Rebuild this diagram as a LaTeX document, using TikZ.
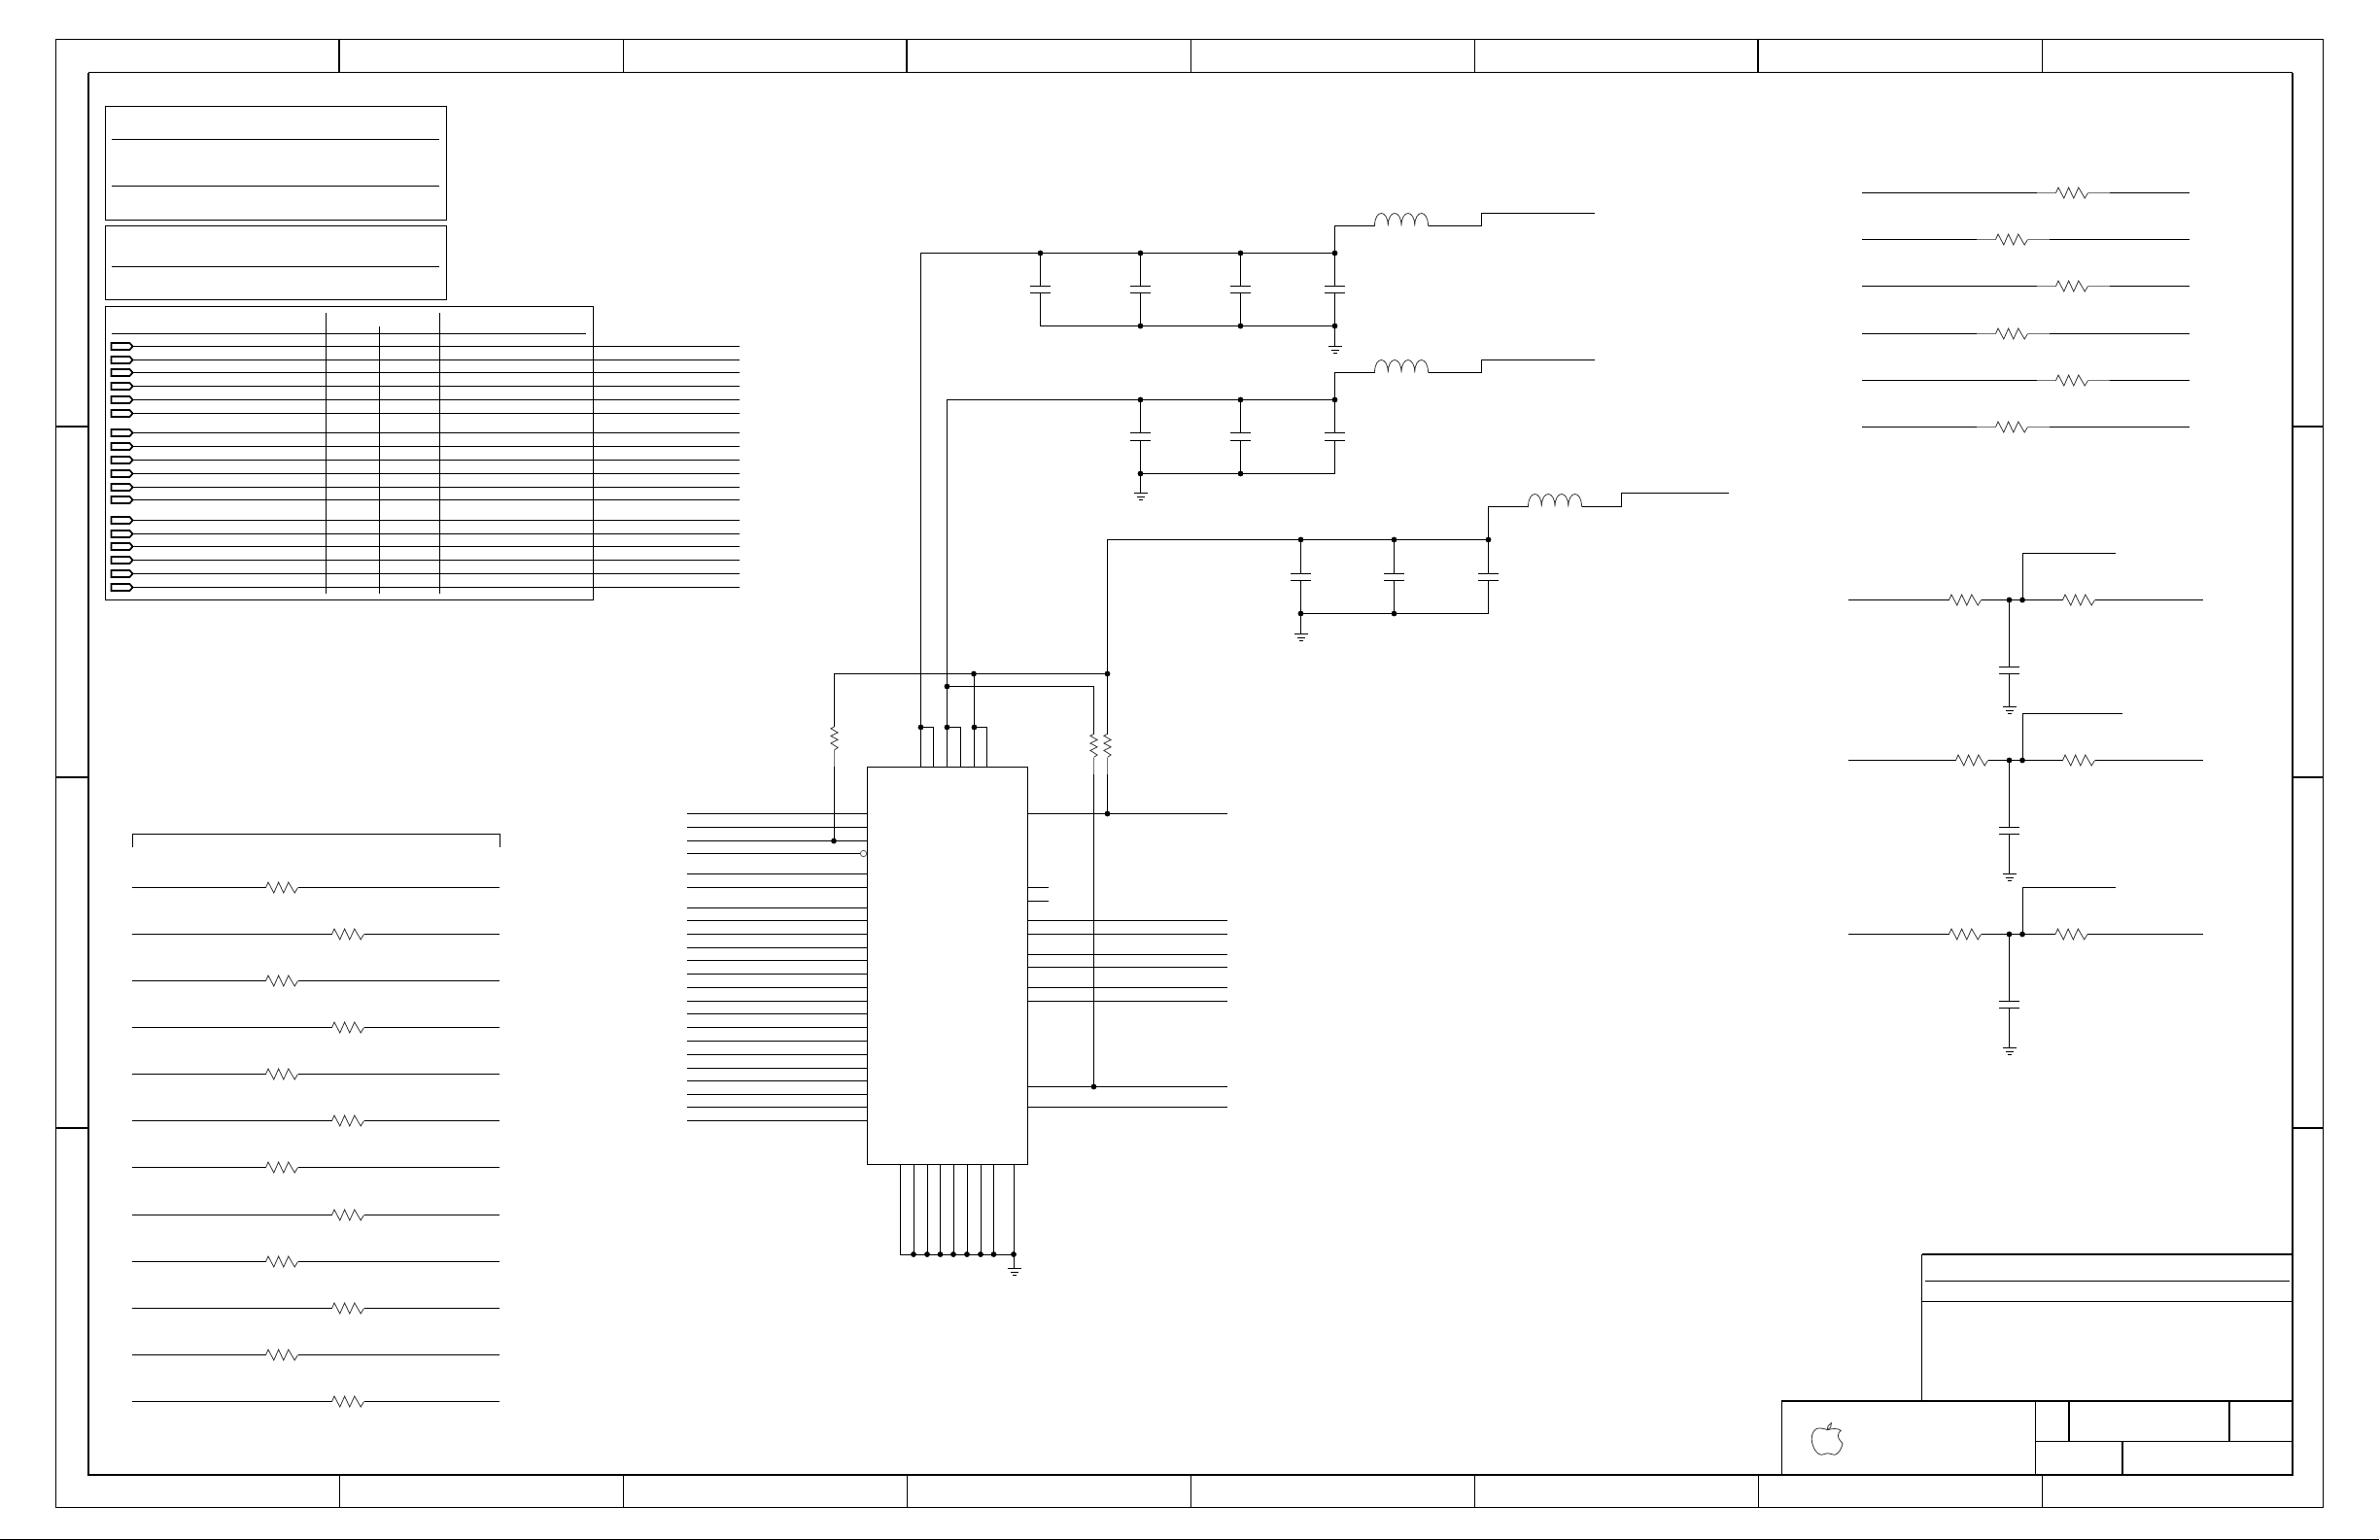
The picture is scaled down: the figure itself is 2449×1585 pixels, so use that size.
\documentclass[tikz,border=0pt]{standalone}
\usetikzlibrary{calc}
\tikzset{
  wire/.style={line width=0.7pt,black,line cap=butt,line join=miter},
  heavy/.style={line width=1pt,black,line cap=square,line join=miter},
  sym/.style={line width=0.4pt,black!80,line join=miter},
  lead/.style={line width=0.5pt,black!55},
  tagbox/.style={line width=0.85pt,black,line join=miter},
  junction/.style={fill=black,draw=none}
}
\newcommand{\zigh}[2]{\draw[sym] (#1,#2) -- ++(2.5,-5.5) -- ++(5.8,11) -- ++(4.8,-11) -- ++(5.2,11) -- ++(5,-11) -- ++(6.4,11) -- ++(3.3,-5.5);}
\newcommand{\zigv}[2]{\draw[sym] (#1,#2) -- ++(-3.6,1.8) -- ++(7.2,4.2) -- ++(-7.2,3.5) -- ++(7.2,3.8) -- ++(-7.2,3.6) -- ++(7.2,4.6) -- ++(-3.6,2.4);}
\newcommand{\resline}[4]{\draw[wire] (#1,#4) -- (#3,#4); \zigh{#3}{#4} \draw[wire] ($(#3,#4)+(33,0)$) -- (#2,#4);}
\newcommand{\reslead}[4]{\draw[wire] (#1,#4) -- ($(#3,#4)+(-20,0)$); \draw[lead] ($(#3,#4)+(-20,0)$) -- (#3,#4); \zigh{#3}{#4} \draw[lead] ($(#3,#4)+(33,0)$) -- ($(#3,#4)+(55,0)$); \draw[wire] ($(#3,#4)+(55,0)$) -- (#2,#4);}
\newcommand{\jdot}[2]{\fill[junction] (#1,#2) circle (1.45pt);}
\newcommand{\gndsym}[2]{\draw[wire] ($(#1,#2)+(-7,0)$) -- ++(14,0) ($(#1,#2)+(-4,4)$) -- ++(8,0) ($(#1,#2)+(-2,7)$) -- ++(4,0);}
\newcommand{\capsym}[3]{\draw[wire] ($(#1,#2)+(-10.5,0)$) -- ++(21,0) ($(#1,#3)+(-10.5,0)$) -- ++(21,0);}
\newcommand{\coil}[2]{\draw[sym] (#1,#2) foreach \n in {0,1,2,3} { .. controls ($(#1,#2)+(13.75*\n,-17.3)$) and ($(#1,#2)+(13.75*\n+13.75,-17.3)$) .. ($(#1,#2)+(13.75*\n+13.75,0)$) };}
\newcommand{\tagpin}[1]{\draw[tagbox] (114.5,#1-3.5) -- (133.5,#1-3.5) -- (136.5,#1) -- (133.5,#1+3.5) -- (114.5,#1+3.5) -- cycle;}
\begin{document}
\begin{tikzpicture}[x=0.5pt,y=-0.5pt]
\useasboundingbox (0,0) rectangle (2449,1585);
\fill[white] (0,0) rectangle (2449,1585);
% --- frame
\draw[wire] (57.5,40.5) rectangle (2390.5,1551.5);
\draw[wire] (91,74.5) -- (2359,74.5);
\draw[heavy] (91,74.5) -- (91,1518) -- (2359,1518) -- (2359,74.5);
\foreach \t in {641.5,1225.5,1517.5,2101.5} {\draw[wire] (\t,40.5) -- (\t,74.5);}
\foreach \t in {349,933,1809} {\draw[heavy,line cap=butt] (\t,40.5) -- (\t,74.5);}
\foreach \t in {349.5,641.5,933.5,1225.5,1517.5,1809.5,2101.5} {\draw[wire] (\t,1518) -- (\t,1551.5);}
\foreach \t in {439,800,1161} {\draw[heavy,line cap=butt] (57.5,\t) -- (91,\t); \draw[heavy,line cap=butt] (2359,\t) -- (2390.5,\t);}
\draw[wire] (0,1584.5) -- (2448,1584.5);
% --- table boxes
\draw[wire] (108.5,109.5) rectangle (459.5,226.5);
\draw[wire] (114.5,143.5) -- (452,143.5) (114.5,191.5) -- (452,191.5);
\draw[wire] (108.5,232.5) rectangle (459.5,308.5);
\draw[wire] (114.5,274.5) -- (452,274.5);
\draw[wire] (108.5,315.5) rectangle (610.5,617.5);
\draw[wire] (114.5,343.5) -- (603,343.5);
\draw[wire] (335.5,322) -- (335.5,611) (390.5,336) -- (390.5,611) (452.5,322) -- (452.5,611);
\foreach \r in {356.5,370.5,383.5,397.5,411.5,425.5,445.5,459.5,473.5,487.5,501.5,514.5,535.5,549.5,562.5,576.5,590.5,604.5} {
  \tagpin{\r}
  \draw[wire] (136.5,\r) -- (761,\r);
}
% --- bracket with resistor rows
\draw[wire] (136.5,872) -- (136.5,858.5) -- (514.5,858.5) -- (514.5,872);
\foreach \i/\rx in {0/273.5,1/341.5,2/273.5,3/341.5,4/273.5,5/341.5,6/273.5,7/341.5,8/273.5,9/341.5,10/273.5,11/341.5} {
  \pgfmathsetmacro{\ry}{floor(913.3+48.1*\i)+0.5}
  \resline{136}{514}{\rx}{\ry}
}
% --- top right resistor rows
\reslead{1916}{2252.5}{2115.5}{198.5}
\reslead{1916}{2252.5}{2053.5}{246.5}
\reslead{1916}{2252.5}{2115.5}{294.5}
\reslead{1916}{2252.5}{2053.5}{343.5}
\reslead{1916}{2252.5}{2115.5}{391.5}
\reslead{1916}{2252.5}{2053.5}{439.5}
% --- RC filters right
\foreach \yr/\ya/\xb/\rl/\rr/\cy/\cz/\gy in {
  617.5/569.5/2176.5/2005.5/2122.5/686.5/693.5/727.5,
  782.5/734.5/2184/2012.5/2122.5/851.5/858.5/899.5,
  961.5/913.5/2176.5/2005.5/2115/1030.5/1037.5/1078.5} {
  \draw[wire] (1902,\yr) -- (\rl,\yr);
  \zigh{\rl}{\yr}
  \pgfmathsetmacro{\rle}{\rl+33}
  \pgfmathsetmacro{\rre}{\rr+33}
  \draw[wire] (\rle,\yr) -- (\rr,\yr);
  \zigh{\rr}{\yr}
  \draw[wire] (\rre,\yr) -- (2267,\yr);
  \draw[wire] (2081.5,\yr) -- (2081.5,\ya) -- (\xb,\ya);
  \draw[wire] (2067.5,\yr) -- (2067.5,\cy) (2067.5,\cz) -- (2067.5,\gy);
  \capsym{2067.5}{\cy}{\cz}
  \gndsym{2067.5}{\gy}
  \jdot{2067.5}{\yr}
  \jdot{2081}{\yr}
}
% --- supply filter 1
\coordinate (railA) at (947.5,260.5);
\draw[wire] (947.5,789.5) -- (railA) -- (1373.5,260.5);
\foreach \cx in {1070.5,1173.5,1276.5,1373.5} {
  \draw[wire] (\cx,260.5) -- (\cx,294.5) (\cx,301.5) -- (\cx,335.5);
  \capsym{\cx}{294.5}{301.5}
  \jdot{\cx}{260.5}
}
\draw[wire] (1070.5,335.5) -- (1373.5,335.5);
\foreach \cx in {1173.5,1276.5,1373.5} {\jdot{\cx}{335.5}}
\draw[wire] (1373.5,335.5) -- (1373.5,356.5);
\gndsym{1373.5}{356.5}
\draw[wire] (1373.5,260.5) -- (1373.5,232.5) -- (1414.5,232.5);
\coil{1414.5}{232.5}
\draw[wire] (1469.5,232.5) -- (1524.5,232.5) -- (1524.5,219.5) -- (1640.5,219.5);
% --- supply filter 2
\draw[wire] (974.5,789.5) -- (974.5,411.5) -- (1373.5,411.5);
\foreach \cx in {1173.5,1276.5,1373.5} {
  \draw[wire] (\cx,411.5) -- (\cx,445.5) (\cx,453.5) -- (\cx,487.5);
  \capsym{\cx}{445.5}{453.5}
  \jdot{\cx}{411.5}
}
\draw[wire] (1173.5,487.5) -- (1373.5,487.5);
\foreach \cx in {1173.5,1276.5} {\jdot{\cx}{487.5}}
\draw[wire] (1173.5,487.5) -- (1173.5,507.5);
\gndsym{1173.5}{507.5}
\draw[wire] (1373.5,411.5) -- (1373.5,383.5) -- (1414.5,383.5);
\coil{1414.5}{383.5}
\draw[wire] (1469.5,383.5) -- (1524.5,383.5) -- (1524.5,370.5) -- (1640.5,370.5);
% --- supply filter 3
\draw[wire] (1139.5,755.5) -- (1139.5,555.5) -- (1531.5,555.5);
\foreach \cx in {1338.5,1434.5,1531.5} {
  \draw[wire] (\cx,555.5) -- (\cx,590.5) (\cx,597.5) -- (\cx,631.5);
  \capsym{\cx}{590.5}{597.5}
  \jdot{\cx}{555.5}
}
\draw[wire] (1338.5,631.5) -- (1531.5,631.5);
\foreach \cx in {1338.5,1434.5} {\jdot{\cx}{631.5}}
\draw[wire] (1338.5,631.5) -- (1338.5,652.5);
\gndsym{1338.5}{652.5}
\draw[wire] (1531.5,555.5) -- (1531.5,521.5) -- (1572.5,521.5);
\coil{1572.5}{521.5}
\draw[wire] (1627.5,521.5) -- (1668.5,521.5) -- (1668.5,507.5) -- (1778.5,507.5);
% --- main chip
\node[draw,line width=0.75pt,minimum width=82.5pt,minimum height=204.5pt,inner sep=0pt,outer sep=0pt,fill=white] (chip) at (975,994) {};
\foreach \p in {837.5,851.5,865.5,899.5,913.5,934.5,947.5,961.5,975.5,988.5,1002.5,1016.5,1030.5,1043.5,1057.5,1071.5,1085.5,1099.5,1112.5,1126.5,1139.5,1153.5} {
  \draw[wire] (706.5,\p) -- (0,\p -| chip.west);
}
\draw[wire] (706.5,878.5) -- (885,878.5);
\node[circle,draw=black!65,line width=0.4pt,minimum size=3.2pt,inner sep=0pt,outer sep=0pt] (inv) at (888.5,878.5) {};
\foreach \p in {837.5,947.5,961.5,982.5,995.5,1016.5,1030.5,1118.5,1139.5} {
  \draw[wire] (0,\p -| chip.east) -- (1262.5,\p);
}
\foreach \p in {913.5,927.5} {\draw[wire] (0,\p -| chip.east) -- (1078.5,\p);}
% top pins
\foreach \a/\b in {947.5/960.5,974.5/988.5,1002.5/1015.5} {
  \draw[wire] (\a,748.5) -- (\b,748.5) -- (\b,0 |- chip.north);
  \jdot{\a}{748.5}
}
\draw[wire] (1002.5,693.5) -- (1002.5,0 |- chip.north);
% rails over chip
\draw[wire] (858.5,748) -- (858.5,693.5) -- (1139.5,693.5);
\draw[wire] (974.5,706.5) -- (1125.5,706.5) -- (1125.5,755.5);
\jdot{1002}{693.5}
\jdot{1139.5}{693.5}
\jdot{974.5}{706.5}
% left pull-up
\zigv{858.5}{748}
\draw[lead] (858.5,772) -- (858.5,789);
\draw[wire] (858.5,789) -- (858.5,865.5);
\jdot{858}{865.5}
% right pull-ups
\zigv{1125.5}{755.5}
\zigv{1139.5}{755.5}
\draw[lead] (1125.5,779.5) -- (1125.5,796.5) (1139.5,779.5) -- (1139.5,796.5);
\draw[wire] (1125.5,796.5) -- (1125.5,1118.5);
\draw[wire] (1139.5,796.5) -- (1139.5,837.5);
\jdot{1125.5}{1118.5}
\jdot{1139.5}{837.5}
% bottom pins
\foreach \bx in {926.5,940.5,954.5,967.5,981.5,995.5,1009.5,1022.5,1043.5} {
  \draw[wire] (\bx,0 |- chip.south) -- (\bx,1291.5);
}
\draw[wire] (926.5,1291.5) -- (1043.5,1291.5);
\foreach \bx in {940,954,967.5,981,995,1009,1022.5,1043} {\jdot{\bx}{1291}}
\draw[wire] (1043.5,1291.5) -- (1043.5,1305.5);
\gndsym{1043.5}{1305.5}
% --- title block
\draw[heavy] (1977.5,1291) -- (2359,1291);
\draw[wire] (1977.5,1291) -- (1977.5,1442);
\draw[wire] (1981,1318.5) -- (2356,1318.5);
\draw[wire] (1977.5,1339.5) -- (2359,1339.5);
\draw[heavy,line cap=butt] (1833,1442) -- (2359,1442);
\draw[wire] (1833.5,1442) -- (1833.5,1518);
\draw[wire] (2094.5,1442) -- (2094.5,1518);
\draw[heavy,line cap=butt] (2129,1442) -- (2129,1483.5);
\draw[heavy,line cap=butt] (2294,1442) -- (2294,1483.5);
\draw[wire] (2094.5,1483.5) -- (2359,1483.5);
\draw[heavy,line cap=butt] (2184,1483.5) -- (2184,1518);
% apple logo
\begin{scope}[shift={(1850,1455)},x=0.1667pt,y=-0.1667pt]
\draw[sym,line join=round] (92,50) .. controls (80,46) and (65,42) .. (55,48)
  .. controls (44,56) and (40,75) .. (44,90)
  .. controls (48,108) and (58,125) .. (72,127)
  .. controls (80,127) and (85,122) .. (92,122)
  .. controls (100,122) and (105,127) .. (113,127)
  .. controls (125,125) and (135,108) .. (138,92)
  .. controls (133,85) and (124,78) .. (124,68)
  .. controls (124,60) and (128,55) .. (133,52)
  .. controls (122,44) and (105,46) .. (92,50) -- cycle;
\draw[sym] (90,50) .. controls (90,42) and (95,32) .. (103,29)
  .. controls (105,38) and (100,47) .. (92,50);
\end{scope}
\end{tikzpicture}
\end{document}
